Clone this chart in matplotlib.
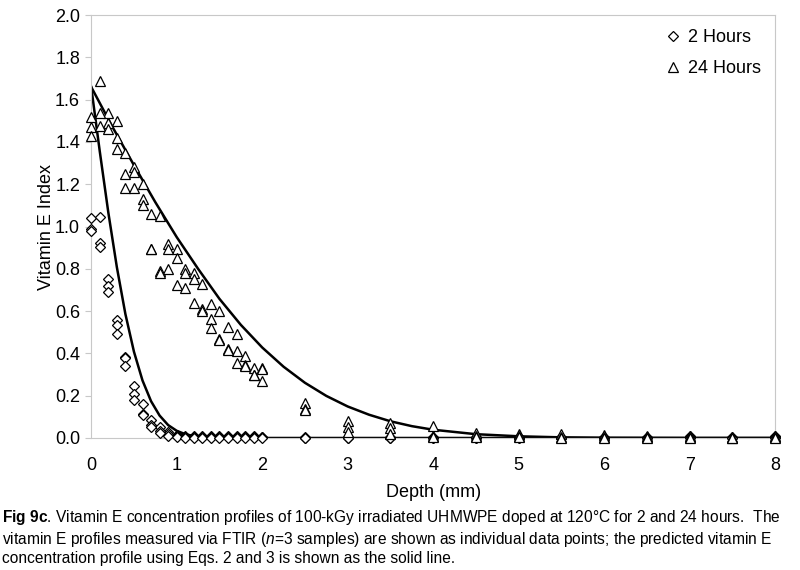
import matplotlib
matplotlib.use("Agg")
import matplotlib.pyplot as plt

plt.rcParams['font.family'] = ['Liberation Sans', 'DejaVu Sans']
plt.rcParams['mathtext.fontset'] = 'custom'
plt.rcParams['mathtext.rm'] = 'Liberation Sans'
plt.rcParams['mathtext.it'] = 'Liberation Sans:italic'
plt.rcParams['mathtext.bf'] = 'Liberation Sans:bold'

# measured depths (mm)
depth = [0.0, 0.1, 0.2, 0.3, 0.4, 0.5, 0.6, 0.7, 0.8, 0.9, 1.0,
         1.1, 1.2, 1.3, 1.4, 1.5, 1.6, 1.7, 1.8, 1.9, 2.0,
         2.5, 3.0, 3.5, 4.0, 4.5, 5.0, 5.5, 6.0, 6.5, 7.0, 7.5, 8.0]

# 2 hours, three samples
h2_a = [1.04, 1.045, 0.75, 0.56, 0.385, 0.245, 0.16, 0.085, 0.05, 0.03, 0.015,
        0.01, 0.01, 0.01, 0.01, 0.01, 0.01, 0.01, 0.01, 0.01, 0.005,
        0.005, 0.005, 0.005, 0.005, 0.005, 0.005, 0.005, 0.005, 0.005, 0.01, 0.005, 0.01]
h2_b = [0.99, 0.92, 0.72, 0.535, 0.38, 0.21, 0.115, 0.06, 0.035, 0.02, 0.01,
        0.005, 0.005, 0.005, 0.005, 0.005, 0.005, 0.005, 0.005, 0.005, 0.005,
        0.0, 0.0, 0.0, 0.0, 0.0, 0.0, 0.0, 0.0, 0.0, 0.005, 0.0, 0.005]
h2_c = [0.98, 0.905, 0.69, 0.49, 0.34, 0.18, 0.11, 0.05, 0.025, 0.01, 0.005,
        0.0, 0.0, 0.0, 0.0, 0.0, 0.0, 0.0, 0.0, 0.0, 0.0,
        0.0, 0.0, 0.0, 0.0, 0.0, 0.0, 0.0, 0.0, 0.0, 0.0, 0.0, 0.0]

# 24 hours, three samples
h24_a = [1.52, 1.69, 1.535, 1.50, 1.35, 1.28, 1.20, 1.06, 1.05, 0.915, 0.895,
         0.80, 0.78, 0.73, 0.635, 0.60, 0.525, 0.49, 0.39, 0.33, 0.33,
         0.165, 0.08, 0.07, 0.055, 0.025, 0.02, 0.02, 0.015, 0.01, 0.01, 0.005, 0.01]
h24_b = [1.47, 1.535, 1.49, 1.42, 1.25, 1.26, 1.13, 0.895, 0.79, 0.895, 0.85,
         0.78, 0.75, 0.61, 0.565, 0.47, 0.42, 0.41, 0.345, 0.30, 0.325,
         0.135, 0.05, 0.045, 0.01, 0.01, 0.01, 0.005, 0.005, 0.005, 0.005, 0.0, 0.005]
h24_c = [1.43, 1.475, 1.46, 1.365, 1.18, 1.18, 1.10, 0.895, 0.78, 0.80, 0.725,
         0.71, 0.64, 0.60, 0.52, 0.465, 0.415, 0.355, 0.34, 0.30, 0.27,
         0.13, 0.03, 0.02, 0.005, 0.005, 0.005, 0.0, 0.0, 0.0, 0.0, 0.0, 0.0]

# predicted profiles
model2_x = [0.0, 0.1, 0.2, 0.3, 0.4, 0.5, 0.6, 0.7, 0.8, 0.9, 1.0,
            1.1, 1.2, 1.3, 1.4, 1.5, 1.6, 8.0]
model2_y = [1.66, 1.356, 1.067, 0.808, 0.586, 0.408, 0.272, 0.174, 0.106, 0.061, 0.034,
            0.018, 0.009, 0.004, 0.002, 0.001, 0.0, 0.0]
model24_x = [0.0, 0.25, 0.5, 0.75, 1.0, 1.25, 1.5, 1.75, 2.0, 2.25, 2.5, 2.75,
             3.0, 3.25, 3.5, 3.75, 4.0, 4.5, 5.0, 5.5, 6.0, 7.0, 8.0]
model24_y = [1.66, 1.47, 1.29, 1.115, 0.95, 0.80, 0.658, 0.535, 0.428, 0.337, 0.261, 0.199,
             0.149, 0.11, 0.079, 0.056, 0.039, 0.018, 0.008, 0.003, 0.001, 0.0, 0.0]

fig = plt.figure(figsize=(8, 5.7), dpi=100)
ax = fig.add_axes([0.114, 0.2316, 0.855, 0.742])

ax.plot(model2_x, model2_y, color='black', lw=1.8, zorder=2)
ax.plot(model24_x, model24_y, color='black', lw=1.8, zorder=2)

mk2 = dict(marker='D', ms=5.0, mfc='white', mec='black', mew=0.9, ls='none',
           zorder=3, clip_on=False)
mk24 = dict(marker='^', ms=6.8, mfc='white', mec='black', mew=0.9, ls='none',
            zorder=3, clip_on=False)
ax.plot(depth, h2_a, label='2 Hours', **mk2)
ax.plot(depth, h2_b, **mk2)
ax.plot(depth, h2_c, **mk2)
ax.plot(depth, h24_a, label='24 Hours', **mk24)
ax.plot(depth, h24_b, **mk24)
ax.plot(depth, h24_c, **mk24)

ax.set_xlim(0, 8)
ax.set_ylim(0, 2.0)
ax.set_xticks(range(0, 9))
ax.set_yticks([0.0, 0.2, 0.4, 0.6, 0.8, 1.0, 1.2, 1.4, 1.6, 1.8, 2.0])
ax.set_yticklabels(['%.1f' % v for v in ax.get_yticks()])
for s in ax.spines.values():
    s.set_color('#c8c8c8')
    s.set_linewidth(0.8)
ax.tick_params(axis='y', colors='#c8c8c8', labelcolor='black', length=4, labelsize=13, pad=4)
ax.tick_params(axis='x', length=0, labelsize=13, pad=14)
ax.set_xlabel('Depth (mm)', fontsize=13, labelpad=7)
ax.set_ylabel('Vitamin E Index', fontsize=13, labelpad=0)

ax.legend(loc='upper right', frameon=False, fontsize=13, handletextpad=0.3,
          handlelength=1.0, labelspacing=0.75, borderaxespad=0.5,
          borderpad=0.3)

caption = ("$\\mathbf{Fig\\ 9c}$. Vitamin E concentration profiles of 100-kGy irradiated UHMWPE doped at 120\u00b0C for 2 and 24 hours.  The\n"
           "vitamin E profiles measured via FTIR ($\\mathit{n}$=3 samples) are shown as individual data points; the predicted vitamin E\n"
           "concentration profile using Eqs. 2 and 3 is shown as the solid line.")
fig.text(0.003, 0.058, caption, fontsize=11.2, va='center', ha='left', linespacing=1.22)

fig.savefig('out.png', dpi=100)
